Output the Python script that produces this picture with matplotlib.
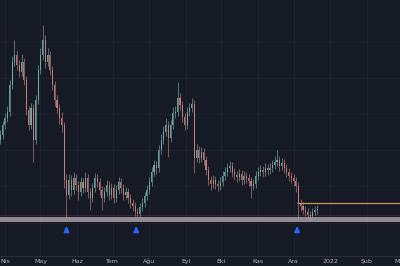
import matplotlib
matplotlib.use("Agg")
import matplotlib.pyplot as plt
import numpy as np

# day 0 = 1 Apr 2021, one candle every 2 days
start_day = -4
step_days = 2
first_open = 100
closes = [105, 115, 122, 128, 155, 178, 185, 175, 168, 178, 160, 130, 115, 132, 100, 140, 170, 185, 200, 178,
          185, 170, 155, 140, 132, 122, 115, 60, 45, 60, 50, 62, 55, 48, 58, 52, 62, 48, 42, 52,
          62, 58, 50, 42, 48, 55, 45, 52, 42, 50, 58, 52, 45, 48, 42, 37, 34, 28, 26, 33,
          37, 44, 50, 58, 68, 75, 72, 90, 100, 108, 115, 102, 115, 127, 128, 142, 135, 123, 115, 128,
          132, 136, 82, 90, 82, 88, 80, 70, 60, 56, 60, 56, 54, 58, 64, 68, 72, 74, 68, 65,
          63, 66, 60, 64, 62, 59, 54, 56, 64, 68, 70, 68, 72, 70, 72, 75, 78, 80, 74, 77,
          72, 68, 64, 62, 59, 54, 37, 34, 30, 28, 25, 24, 28, 30, 31]
highs = [110, 119, 127, 134, 160, 184, 200, 190, 180, 186, 182, 164, 134, 137, 136, 145, 175, 192, 215, 205,
         192, 189, 174, 159, 145, 136, 128, 118, 66, 66, 65, 68, 66, 59, 63, 62, 68, 66, 52, 57,
         67, 66, 62, 54, 53, 60, 59, 57, 56, 55, 63, 62, 56, 53, 52, 46, 41, 38, 32, 37,
         42, 48, 55, 63, 73, 80, 79, 95, 106, 114, 122, 119, 120, 133, 134, 158, 147, 139, 127, 133,
         137, 142, 140, 96, 94, 93, 92, 84, 74, 64, 65, 64, 60, 63, 69, 73, 77, 79, 78, 72,
         69, 71, 70, 69, 68, 66, 63, 61, 69, 73, 75, 74, 77, 76, 77, 80, 84, 90, 84, 82,
         81, 76, 72, 68, 66, 63, 58, 41, 38, 34, 32, 29, 32, 34, 35]
lows = [96, 101, 111, 118, 124, 151, 174, 170, 163, 164, 155, 125, 110, 111, 78, 96, 136, 166, 180, 172,
        174, 165, 150, 134, 127, 116, 108, 52, 22, 41, 44, 46, 50, 40, 44, 47, 48, 42, 30, 38,
        48, 53, 45, 30, 38, 44, 40, 41, 37, 38, 46, 47, 40, 41, 37, 32, 29, 24, 22, 23,
        29, 33, 40, 46, 54, 64, 66, 68, 86, 96, 104, 83, 98, 111, 122, 124, 130, 118, 110, 111,
        124, 128, 67, 78, 77, 78, 75, 65, 55, 50, 52, 51, 49, 50, 54, 60, 64, 68, 63, 60,
        58, 59, 55, 56, 57, 54, 42, 50, 52, 60, 64, 63, 64, 65, 66, 68, 71, 74, 69, 70,
        67, 63, 59, 57, 54, 48, 20, 29, 26, 24, 21, 20, 21, 25, 26]

month_days = [0, 30, 61, 91, 122, 153, 183, 214, 244, 275, 306, 334]
month_labels = ["Nis", "May", "Haz", "Tem", "Ağu", "Eyl", "Eki", "Kas", "Ara", "2022", "Şub", "Mar"]

support_low, support_high = 18.5, 23.5
level_price = 37.5
level_start_day = 247
arrow_days = [52, 111, 247]

bg = "#161a25"
up_col = "#7dbdb3"
down_col = "#d98a84"

fig = plt.figure(figsize=(4, 2.66), dpi=100, facecolor=bg)
ax = fig.add_axes([0, 10 / 266, 1, 256 / 266], facecolor=bg)

n = len(closes)
days = start_day + step_days * np.arange(n)
opens = [first_open] + closes[:-1]

for d in month_days:
    ax.axvline(d, color="#1e222e", lw=0.7, zorder=0)
for p in [198, 162, 126, 90, 54]:
    ax.axhline(p, color="#1e222e", lw=0.7, zorder=0)

# support band
ax.axhspan(support_low, support_high, color="#a69fa9", alpha=0.85, lw=0, zorder=1)
ax.axhline(support_high + 1.5, color="#3a2630", lw=0.8, zorder=1)
ax.axhline(support_low - 1.5, color="#241c26", lw=0.8, zorder=1)

for d, o, h, l, c in zip(days, opens, highs, lows, closes):
    col = up_col if c >= o else down_col
    ax.vlines(d, l, h, color=col, lw=0.5, alpha=0.8, zorder=2)
    ax.bar(d, max(abs(c - o), 0.8), bottom=min(o, c), width=0.9, color=col, alpha=0.8, lw=0, zorder=3)

ax.hlines(level_price, level_start_day, 340, color="#c8955c", lw=0.9, zorder=2)

for d in arrow_days:
    ax.annotate("", xy=(d, 16.5), xytext=(d, 7),
                arrowprops=dict(arrowstyle="-|>", color="#2962ff", lw=1.4, mutation_scale=7))

ax.set_xlim(-4.2, 333.3)
ax.set_ylim(-16, 240)
ax.set_xticks(month_days)
ax.set_xticklabels(month_labels, fontsize=4.5, color="#b2b5be")
ax.tick_params(axis="x", length=0, pad=2)
ax.set_yticks([])
for s in ["top", "left", "right"]:
    ax.spines[s].set_visible(False)
ax.spines["bottom"].set_color("#2a2e39")
ax.spines["bottom"].set_linewidth(0.8)

fig.savefig("out.png", dpi=100, facecolor=bg)
